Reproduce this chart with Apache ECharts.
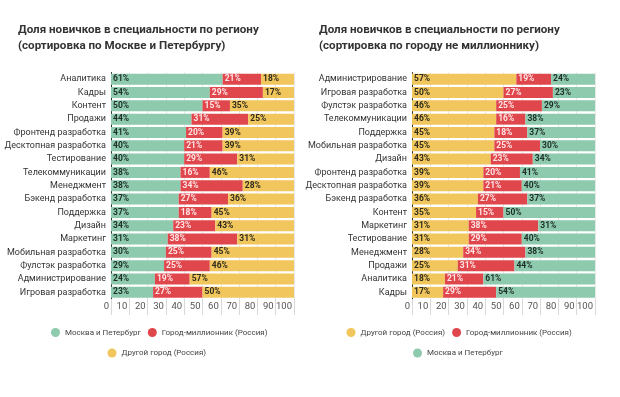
<!DOCTYPE html>
<html><head><meta charset="utf-8">
<script src="https://cdn.jsdelivr.net/npm/echarts@6/dist/echarts.min.js"></script>
<style>html,body{margin:0;padding:0;background:#fff}#c{width:620px;height:397px}</style>
</head><body><div id="c"></div>
<script>
// Left chart: sorted by Moscow & Petersburg
const leftCategories = ['Аналитика','Кадры','Контент','Продажи','Фронтенд разработка','Десктопная разработка','Тестирование','Телекоммуникации','Менеджмент','Бэкенд разработка','Поддержка','Дизайн','Маркетинг','Мобильная разработка','Фулстэк разработка','Администрирование','Игровая разработка'];
const leftMsk =   [61,54,50,44,41,40,40,38,38,37,37,34,31,30,29,24,23];
const leftMln =   [21,29,15,31,20,21,29,16,34,27,18,23,38,25,25,19,27];
const leftOther = [18,17,35,25,39,39,31,46,28,36,45,43,31,45,46,57,50];

// Right chart: sorted by other (non-million) city
const rightCategories = ['Администрирование','Игровая разработка','Фулстэк разработка','Телекоммуникации','Поддержка','Мобильная разработка','Дизайн','Фронтенд разработка','Десктопная разработка','Бэкенд разработка','Контент','Маркетинг','Тестирование','Менеджмент','Продажи','Аналитика','Кадры'];
const rightOther = [57,50,46,46,45,45,43,39,39,36,35,31,31,28,25,18,17];
const rightMln =   [19,27,25,16,18,25,23,20,21,27,15,38,29,34,31,21,29];
const rightMsk =   [24,23,29,38,37,30,34,41,40,37,50,31,40,38,44,61,54];

const xTicks = [0,10,20,30,40,50,60,70,80,90,100];

const NAME_MSK = 'Москва и Петербург';
const NAME_MLN = 'Город-миллионник (Россия)';
const NAME_OTH = 'Другой город (Россия)';
const C_MSK = '#8dcaae', C_MLN = '#e0474d', C_OTH = '#f1c75d';
const FONT = 'Roboto, "Noto Sans", sans-serif';

const chart = echarts.init(document.getElementById('c'), null, {renderer:'canvas'});

function xAxis(gi){
  return {
    gridIndex: gi, type:'value', min:0, max:100, interval:10,
    axisLine:{show:false},
    axisTick:{show:true, length:16, lineStyle:{color:'#d9d9d9'}},
    splitLine:{show:true, lineStyle:{color:'#e8e8e8'}},
    axisLabel:{align:'right', margin:3, padding:[0,2,0,0], fontSize:9.5, color:'#555', fontFamily:FONT,
      formatter: v => xTicks.includes(v) ? String(v) : ''}
  };
}
function yAxis(gi, cats){
  return {
    gridIndex: gi, type:'category', data:cats, inverse:true,
    axisLine:{show:true, lineStyle:{color:'#333', width:1}},
    axisTick:{show:false},
    axisLabel:{fontSize:9, color:'#333', margin:5, fontFamily:FONT}
  };
}
function bar(name, data, color, labelColor, gi){
  return {
    name, type:'bar', stack:'s'+gi, xAxisIndex:gi, yAxisIndex:gi, data, barWidth:11,
    itemStyle:{color},
    label:{show:true, position:'insideLeft', distance:2, formatter:'{c}%', fontSize:8.5, fontWeight:'bold', color:labelColor, fontFamily:FONT},
    emphasis:{disabled:true}
  };
}
const titleStyle = {fontSize:11.6, fontWeight:'bold', color:'#333', lineHeight:16, fontFamily:FONT};
const legendBase = {orient:'horizontal', padding:0, itemWidth:9, itemHeight:9, itemGap:7, icon:'circle',
  textStyle:{fontSize:8, color:'#444', fontFamily:FONT}};

chart.setOption({
  backgroundColor:'#fff',
  animation:false,
  title:[
    {text:'Доля новичков в специальности по региону\n(сортировка по Москве и Петербургу)', left:18, top:22, padding:0, textStyle:titleStyle},
    {text:'Доля новичков в специальности по региону\n(сортировка по городу не миллионнику)', left:319, top:22, padding:0, textStyle:titleStyle}
  ],
  legend:[
    Object.assign({}, legendBase, {data:[NAME_MSK, NAME_MLN], left:51, top:328}),
    Object.assign({}, legendBase, {data:[NAME_OTH], left:107.5, top:348.5}),
    Object.assign({}, legendBase, {data:[NAME_OTH, NAME_MLN], left:346.5, top:328}),
    Object.assign({}, legendBase, {data:[NAME_MSK], left:413, top:348.5})
  ],
  grid:[
    {left:111, top:72.5, width:183, height:226.5},
    {left:412, top:72.5, width:183, height:226.5}
  ],
  xAxis:[xAxis(0), xAxis(1)],
  yAxis:[yAxis(0, leftCategories), yAxis(1, rightCategories)],
  series:[
    bar(NAME_MSK, leftMsk, C_MSK, '#1e2e27', 0),
    bar(NAME_MLN, leftMln, C_MLN, '#ffe6e6', 0),
    bar(NAME_OTH, leftOther, C_OTH, '#2e2a1c', 0),
    bar(NAME_OTH, rightOther, C_OTH, '#2e2a1c', 1),
    bar(NAME_MLN, rightMln, C_MLN, '#ffe6e6', 1),
    bar(NAME_MSK, rightMsk, C_MSK, '#1e2e27', 1)
  ]
});
</script></body></html>
